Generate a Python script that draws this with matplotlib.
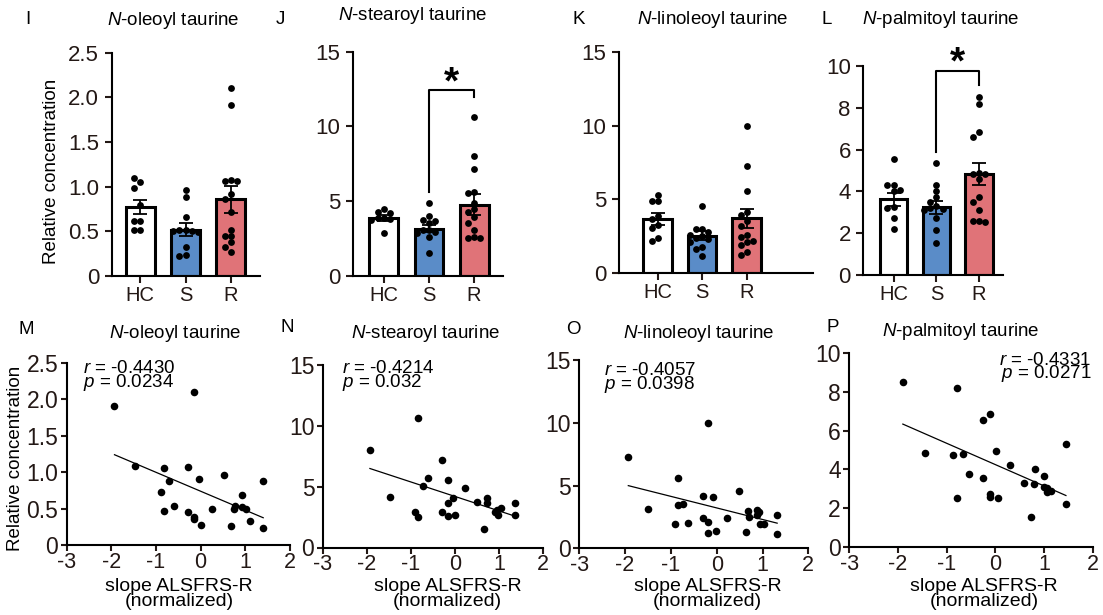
import numpy as np
import matplotlib
matplotlib.use('Agg')
import matplotlib.pyplot as plt
from matplotlib.ticker import FuncFormatter

plt.rcParams['font.family'] = ['Liberation Sans', 'DejaVu Sans']
plt.rcParams['mathtext.fontset'] = 'custom'
plt.rcParams['mathtext.rm'] = 'Liberation Sans'
plt.rcParams['mathtext.it'] = 'Liberation Sans:italic'
plt.rcParams['axes.unicode_minus'] = False

groups = ['HC', 'S', 'R']
bar_colors = ['white', '#5a8cc8', '#e07378']
tick_color = '#231815'

# --- dados dos graficos de barras (I-L) ---
ole_hc = [1.05, 1.10, 0.99, 0.79, 0.62, 0.62, 0.51, 0.51]
ole_s = [0.96, 0.88, 0.66, 0.52, 0.51, 0.50, 0.50, 0.49, 0.33, 0.23, 0.22]
ole_r = [2.11, 1.91, 1.07, 1.06, 1.06, 0.92, 0.86, 0.72, 0.52, 0.45, 0.45, 0.38, 0.33, 0.27]
ole_mean = [0.77, 0.52, 0.86]
ole_sem = [0.08, 0.07, 0.15]

ste_hc = [4.5, 4.25, 4.2, 3.9, 3.85, 3.8, 3.75, 2.9]
ste_s = [4.87, 4.02, 3.75, 3.68, 3.55, 3.08, 3.05, 2.95, 2.86, 2.59, 1.52]
ste_r = [10.62, 8.04, 7.17, 5.65, 5.54, 4.9, 4.46, 4.31, 3.93, 3.57, 3.08, 2.59, 2.52, 2.52]
ste_mean = [3.88, 3.17, 4.78]
ste_sem = [0.2, 0.25, 0.7]

lin_hc = [5.3, 4.9, 4.9, 3.9, 3.7, 3.3, 3.1, 2.4, 2.2]
lin_s = [4.58, 2.98, 2.98, 2.8, 2.6, 2.5, 2.37, 2.3, 2.14, 1.8, 1.62, 1.17]
lin_r = [9.97, 7.29, 5.59, 4.17, 3.95, 3.56, 3.2, 2.6, 2.48, 2.21, 2.14, 1.92, 1.42, 1.24]
lin_mean = [3.68, 2.53, 3.72]
lin_sem = [0.38, 0.3, 0.63]

pal_hc = [5.57, 4.31, 4.31, 4.07, 4.03, 3.25, 3.2, 2.75, 2.18]
pal_s = [5.34, 4.31, 4.03, 3.75, 3.5, 3.3, 3.2, 3.14, 3.1, 2.71, 2.15, 1.55]
pal_r = [8.53, 8.17, 6.86, 6.59, 4.9, 4.85, 4.83, 4.6, 3.75, 3.51, 3.1, 2.58, 2.58, 2.55]
pal_mean = [3.62, 3.24, 4.83]
pal_sem = [0.32, 0.32, 0.53]

# --- dados de correlacao (M-P) ---
ole_x = [-1.93, -0.14, -1.47, -0.82, -0.28, -0.71, -0.89, -0.03, 0.53, 1.40, 0.93, -0.59, -0.82,
         -0.29, -0.16, -0.14, 0.01, 0.26, 0.74, 0.76, 0.93, 1.02, 1.10, 0.69, 1.40]
ole_y = [1.90, 2.10, 1.08, 1.06, 1.07, 0.88, 0.72, 0.91, 0.96, 0.88, 0.68, 0.53, 0.46,
         0.45, 0.38, 0.35, 0.27, 0.50, 0.50, 0.53, 0.52, 0.49, 0.33, 0.26, 0.23]

ste_x = [-1.93, -1.47, -0.91, -0.83, -0.83, -0.72, -0.61, -0.30, -0.30, -0.17, -0.17, -0.17, -0.05,
         0.00, 0.23, 0.49, 0.72, 0.72, 0.66, 0.90, 0.94, 0.98, 1.03, 1.36, 1.36]
ste_y = [8.05, 4.11, 2.93, 2.52, 10.66, 5.07, 5.73, 7.23, 2.93, 5.53, 3.67, 2.58, 4.03,
         2.71, 4.85, 3.75, 4.03, 3.62, 1.56, 2.93, 3.07, 2.66, 3.21, 3.62, 2.71]

lin_x = [-1.93, -0.18, -0.84, -1.49, -0.85, -0.73, -0.91, -0.62, -0.31, -0.31, -0.18, -0.18, -0.07,
         -0.02, 0.22, 0.49, 0.64, 0.69, 0.71, 0.87, 0.93, 0.87, 0.94, 1.03, 1.32, 1.32]
lin_y = [7.29, 10.0, 5.62, 3.13, 3.45, 3.53, 1.94, 1.99, 4.16, 2.39, 2.10, 1.25, 4.06,
         1.41, 2.44, 4.56, 1.33, 2.97, 2.52, 3.05, 2.92, 2.65, 1.91, 1.91, 2.65, 1.11]

pal_x = [-1.90, -0.79, -0.26, -0.10, -1.45, -0.86, -0.67, -0.55, -0.25, -0.78, -0.11, -0.10, 0.06,
         0.01, 0.30, 0.58, 0.80, 0.82, 0.99, 0.99, 1.07, 1.06, 1.14, 0.73, 1.45, 1.45]
pal_y = [8.51, 8.17, 6.54, 6.83, 4.86, 4.74, 4.79, 3.75, 3.54, 2.52, 2.74, 2.57, 2.52,
         4.95, 4.23, 3.32, 3.25, 4.01, 3.68, 3.12, 3.03, 2.86, 2.91, 1.54, 5.31, 2.23]

stats = [('-0.4430', '0.0234'), ('-0.4214', '0.032'), ('-0.4057', '0.0398'), ('-0.4331', '0.0271')]
titles = ['$\\it{N}$-oleoyl taurine', '$\\it{N}$-stearoyl taurine',
          '$\\it{N}$-linoleoyl taurine', '$\\it{N}$-palmitoyl taurine']

W, H = 1103, 615
fig = plt.figure(figsize=(W / 100, H / 100), dpi=100)


def box(x0, y0, x1, y1):
    return fig.add_axes([x0 / W, 1 - y1 / H, (x1 - x0) / W, (y1 - y0) / H])


def ftext(x, y, s, **kw):
    fig.text(x / W, 1 - y / H, s, **kw)


def spread(vals, xsc, ysc, d=6.5):
    # layout simples tipo swarm
    placed, offs = [], []
    for v in vals:
        best = 0.0
        for k in (0, -1, 1, -2, 2):
            xo = k * d * 0.95
            if all((xo - a) ** 2 + ((v - b) * ysc) ** 2 >= (d * 0.9) ** 2 for a, b in placed):
                best = xo
                break
        placed.append((best, v))
        offs.append(best / xsc)
    return offs


def style(ax, lab=16):
    for s in ['top', 'right']:
        ax.spines[s].set_visible(False)
    for s in ['left', 'bottom']:
        ax.spines[s].set_linewidth(1.5)
    ax.tick_params(direction='out', length=5, width=1.5, labelsize=lab, colors=tick_color)
    ax.tick_params(axis='y', pad=4)


def fmt_half(v, pos):
    return '0' if v == 0 else f'{v:.1f}'


def bar_panel(rect, xlim, ymax, yticks, data, means, sems, half=False, bracket=None):
    ax = box(*rect)
    xsc = (rect[2] - rect[0]) / (xlim[1] - xlim[0])
    ysc = (rect[3] - rect[1]) / ymax
    xs = np.arange(3)
    ax.bar(xs, means, width=0.64, color=bar_colors, edgecolor='black', linewidth=2.2, zorder=2)
    ax.errorbar(xs, means, yerr=sems, fmt='none', ecolor='black', elinewidth=1.3,
                capsize=4.8, capthick=1.3, zorder=3)
    for i, vals in enumerate(data):
        offs = spread(vals, xsc, ysc)
        ax.scatter(i + np.array(offs), vals, s=24, color='black', zorder=4, linewidths=0)
    ax.set_xlim(*xlim)
    ax.set_ylim(0, ymax)
    ax.set_yticks(yticks)
    if half:
        ax.yaxis.set_major_formatter(FuncFormatter(fmt_half))
    ax.set_xticks(xs)
    ax.set_xticklabels(groups)
    style(ax)
    ax.tick_params(axis='x', labelsize=14.5, pad=2)
    if bracket is not None:
        top, lbot, rbot, sy = bracket
        ax.plot([1, 1, 2, 2], [lbot, top, top, rbot], color='black', lw=1.5, clip_on=False, zorder=5)
        ax.text(1.5, sy, '*', ha='center', va='center', fontsize=28, fontweight='bold', clip_on=False)
    return ax


bar_panel((111.7, 52.7, 260, 276), (-0.63, 2.64), 2.5, [0, 0.5, 1.0, 1.5, 2.0, 2.5],
          [ole_hc, ole_s, ole_r], ole_mean, ole_sem, half=True)
bar_panel((352.7, 51.7, 503, 276), (-0.69, 2.64), 15, [0, 5, 10, 15],
          [ste_hc, ste_s, ste_r], ste_mean, ste_sem, bracket=(12.45, 5.65, 12.0, 12.9))
bar_panel((619, 51.7, 813, 273.3), (-0.87, 3.49), 15, [0, 5, 10, 15],
          [lin_hc, lin_s, lin_r], lin_mean, lin_sem)
bar_panel((863.3, 66, 1003, 275), (-0.71, 2.56), 10, [0, 2, 4, 6, 8, 10],
          [pal_hc, pal_s, pal_r], pal_mean, pal_sem, bracket=(9.76, 5.9, 9.09, 10.1))


def scatter_panel(rect, ymax, yticks, x, y, st, txtpos, right=False, half=False):
    ax = box(*rect)
    x = np.array(x)
    y = np.array(y)
    ax.scatter(x, y, s=30, color='black', linewidths=0, zorder=3)
    k, b = np.polyfit(x, y, 1)
    xl = np.array([x.min(), x.max()])
    ax.plot(xl, k * xl + b, color='black', lw=0.9)
    ax.set_xlim(-3, 2)
    ax.set_ylim(0, ymax)
    ax.set_xticks([-3, -2, -1, 0, 1, 2])
    ax.set_yticks(yticks)
    if half:
        ax.yaxis.set_major_formatter(FuncFormatter(fmt_half))
    style(ax, lab=16.5)
    ax.tick_params(axis='x', labelsize=15.5, pad=1, length=4)
    ax.tick_params(axis='y', pad=2, length=4)
    tx, ty = txtpos
    ha = 'right' if right else 'left'
    ftext(tx, ty + 6.5, '$\\it{r}$ = ' + st[0] + '\n$\\it{p}$ = ' + st[1], ha=ha, va='center',
          fontsize=13.5, linespacing=0.62, multialignment=ha)
    return ax


scatter_panel((66.7, 362.7, 290, 545), 2.5, [0, 0.5, 1.0, 1.5, 2.0, 2.5], ole_x, ole_y,
              stats[0], (82.7, 370), half=True)
scatter_panel((322.7, 365, 543.3, 547.5), 15, [0, 5, 10, 15], ste_x, ste_y, stats[1], (342.3, 370))
scatter_panel((579.3, 360, 808.3, 548.3), 15, [0, 5, 10, 15], lin_x, lin_y, stats[2], (604, 372))
scatter_panel((849.3, 352.7, 1092.7, 547.3), 10, [0, 2, 4, 6, 8, 10], pal_x, pal_y, stats[3],
              (1091.7, 361.7), right=True)

# letras, titulos e rotulos
letters = [('I', 28, 20), ('J', 280, 19), ('K', 579, 20), ('L', 827, 19),
           ('M', 26, 330), ('N', 287, 328), ('O', 573, 330), ('P', 833, 327)]
for s, x, y in letters:
    ftext(x, y, s, ha='center', va='center', fontsize=13.5)

title_pos = [(173.7, 20.7), (412.5, 16), (712.5, 20), (940.8, 20),
             (175, 334), (425.8, 333), (699, 334), (960.8, 331)]
for i, (x, y) in enumerate(title_pos):
    ftext(x, y, titles[i % 4], ha='center', va='center', fontsize=13.5)

ftext(52, 171, 'Relative concentration', rotation=90, ha='center', va='center', fontsize=13.5)
ftext(16, 458, 'Relative concentration', rotation=90, ha='center', va='center', fontsize=13.5)

for x in [179, 447.5, 707.5, 984]:
    ftext(x, 594, 'slope ALSFRS-R\n(normalized)', ha='center', va='center', fontsize=14,
          linespacing=0.78)

fig.savefig('out.png', dpi=100)
